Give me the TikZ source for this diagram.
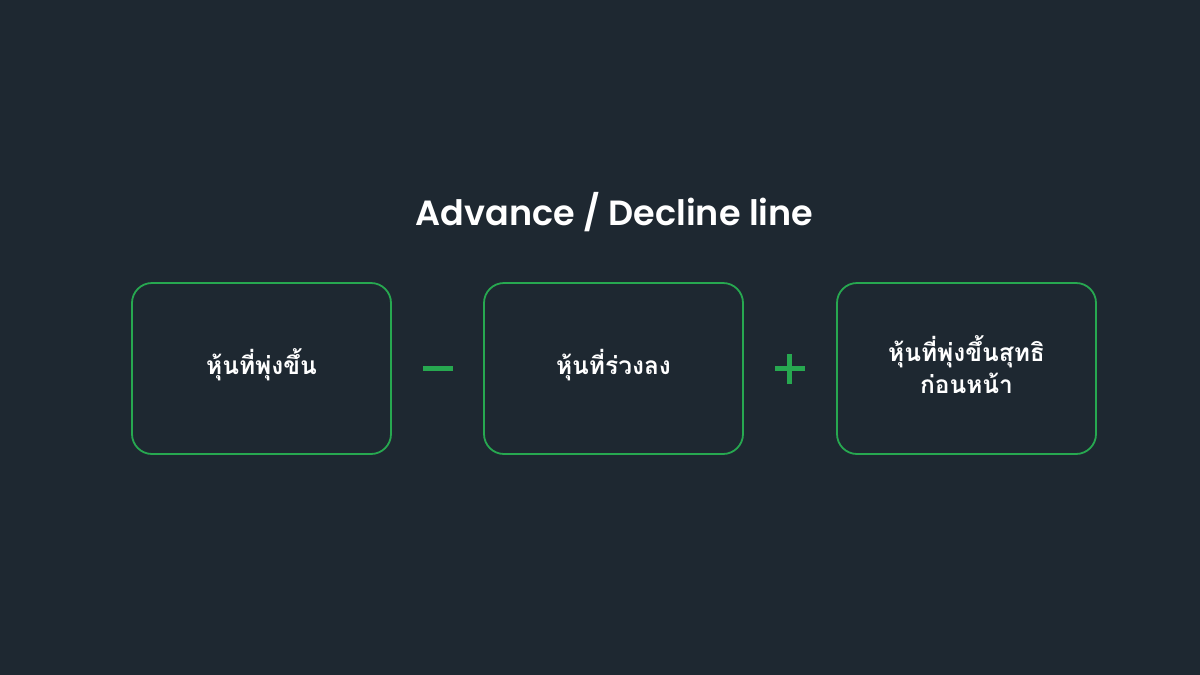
\documentclass[tikz,border=0pt]{standalone}
\usepackage{fontspec}
\setmainfont{Poppins}[BoldFont={Poppins SemiBold}]
\newfontfamily\thaifont[Script=Thai]{Loma}
\usepackage{tikz}
\definecolor{bgdark}{HTML}{1E2831}
\definecolor{boxgreen}{HTML}{27A850}

\begin{document}
\begin{tikzpicture}[x=1pt, y=-1pt]
\tikzset{
  box/.style={draw=boxgreen, line width=1.8pt, rounded corners=20pt, minimum width=259pt, minimum height=171pt, inner sep=0pt},
  boxtext/.style={text=white, align=center, yshift=3.5pt, font=\thaifont\bfseries\fontsize{24.5}{32}\selectfont},
  oper/.style={draw=boxgreen, line width=5pt}
}
\useasboundingbox[fill=bgdark] (0,0) rectangle (1200,675);

\node[text=white, font=\fontsize{35}{40}\selectfont\bfseries] (title) at (614.5,212) {Advance / Decline line};

\node[box] (A) at (261.5,368.5) {};
\node[box] (B) at (613.5,368.5) {};
\node[box] (C) at (966.5,368.5) {};

\node[boxtext] (Atext) at (A) {หุ้นที่พุ่งขึ้น};
\node[boxtext] (Btext) at (B) {หุ้นที่ร่วงลง};
\node[boxtext] (Ctext) at (C) {หุ้นที่พุ่งขึ้นสุทธิ\\ก่อนหน้า};

\coordinate (minusleft) at (423,368.7);
\coordinate (minusright) at (452.5,368.7);
\coordinate (plustop) at (789.5,354);
\coordinate (plusbot) at (789.5,383.5);
\coordinate (plusleft) at (775,368.7);
\coordinate (plusright) at (804.5,368.7);

\draw[oper] (minusleft) -- (minusright);
\draw[oper] (plustop) -- (plusbot);
\draw[oper] (plusleft) -- (plusright);
\end{tikzpicture}
\end{document}
